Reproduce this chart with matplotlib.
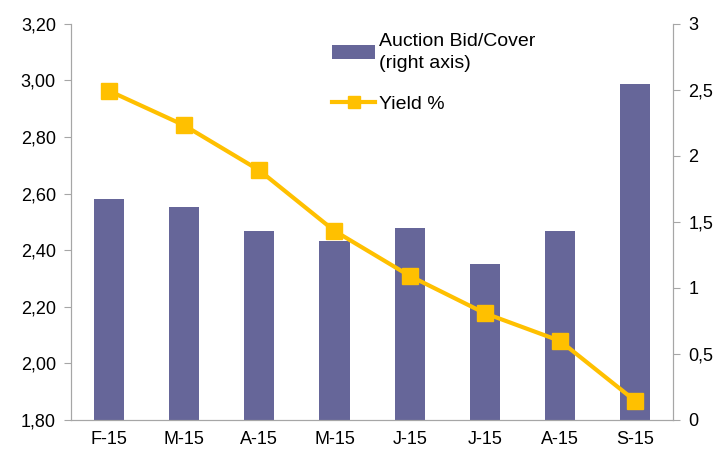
import matplotlib
matplotlib.use('Agg')
import matplotlib.pyplot as plt
from matplotlib.ticker import FuncFormatter

plt.rcParams['font.family'] = ['Liberation Sans', 'DejaVu Sans']
plt.rcParams['font.size'] = 13

months = ['F-15', 'M-15', 'A-15', 'M-15', 'J-15', 'J-15', 'A-15', 'S-15']
bid_cover = [1.67, 1.61, 1.43, 1.355, 1.45, 1.18, 1.43, 2.54]
yield_pct = [2.963, 2.841, 2.682, 2.468, 2.309, 2.177, 2.079, 1.867]

bar_col = '#666699'
line_col = '#FFC000'
grey = '#A6A6A6'

fig = plt.figure(figsize=(7.19, 4.55), dpi=100)
ax = fig.add_subplot(111)
fig.subplots_adjust(left=0.099, right=0.936, top=0.948, bottom=0.077)

x = list(range(len(months)))
bars = ax.bar(x, bid_cover, width=0.4, color=bar_col)
ax2 = ax.twinx()
line, = ax2.plot(x, yield_pct, color=line_col, lw=3, marker='s', markersize=12)

# bars -> right axis, yield -> left axis
ax.set_ylim(0, 3)
ax.set_yticks([0, 0.5, 1, 1.5, 2, 2.5, 3])
ax.yaxis.tick_right()
ax.yaxis.set_major_formatter(FuncFormatter(lambda v, p: ('%g' % v).replace('.', ',')))
ax.set_xlim(-0.5, 7.5)
ax.set_xticks(x)
ax.set_xticklabels(months)

ax2.set_ylim(1.8, 3.2)
ax2.set_yticks([1.8, 2.0, 2.2, 2.4, 2.6, 2.8, 3.0, 3.2])
ax2.yaxis.tick_left()
ax2.yaxis.set_major_formatter(FuncFormatter(lambda v, p: ('%.2f' % v).replace('.', ',')))

for a in (ax, ax2):
    a.spines['top'].set_visible(False)
    for s in ('left', 'right', 'bottom'):
        a.spines[s].set_color(grey)
    a.tick_params(axis='y', color=grey, length=5, labelsize=13, pad=6)
ax.tick_params(axis='x', length=0, labelsize=13, pad=8)

leg = ax2.legend([bars, line], ['Auction Bid/Cover\n(right axis)', 'Yield %'],
                 loc='upper left', bbox_to_anchor=(0.405, 1.02), frameon=False,
                 fontsize=14, handlelength=2.2, handletextpad=0.2, labelspacing=1.2,
                 markerscale=0.7)
for t in leg.get_texts():
    t.set_linespacing(1.35)

fig.savefig('out.png', dpi=100)
